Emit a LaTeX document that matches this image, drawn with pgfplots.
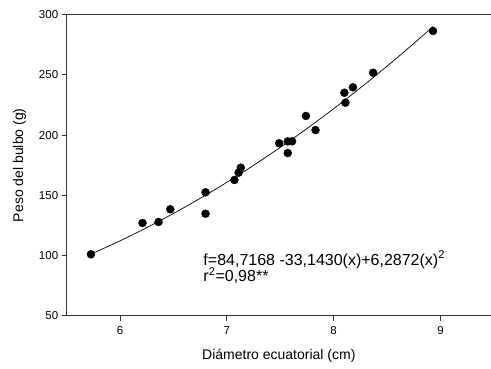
\documentclass[border=0pt]{standalone}
\usepackage{fontspec}
\setmainfont{Liberation Sans}
\usepackage{pgfplots}
\pgfplotsset{compat=1.18}
\usetikzlibrary{calc}
\begin{document}
\begin{tikzpicture}
\begin{axis}[name=ax, scale only axis, width=424.3pt, height=301pt,
  xmin=5.5, xmax=9.473, ymin=50, ymax=300,
  xtick={6,7,8,9}, ytick={50,100,150,200,250,300},
  axis x line=box, axis y line=left,
  axis line style={-, line width=0.8pt, black!80},
  xtick pos=left, ytick pos=left,
  tick align=outside, major tick length=5pt,
  tick style={line width=0.8pt, black!80},
  /pgf/number format/assume math mode=true,
  tick label style={font=\fontsize{11.5}{13}\selectfont},
  xticklabel style={yshift=-2pt},
  label style={font=\fontsize{14}{16}\selectfont},
  xlabel style={yshift=-8pt},
  ylabel style={yshift=6pt},
  xlabel={Diámetro ecuatorial (cm)},
  ylabel={Peso del bulbo (g)},
  clip=false]
\addplot[black, line width=0.7pt, smooth] coordinates {
(5.727,101.1) (6.0,112.198) (6.25,123.167) (6.5,134.922) (6.75,147.463)
(7.0,160.789) (7.25,174.900) (7.5,189.800) (7.75,205.484) (8.0,221.954)
(8.25,239.209) (8.5,257.251) (8.75,276.080) (8.93,290.122)};
\addplot[only marks, mark=*, mark size=4pt, black] coordinates {
(5.727,101.0) (6.21,127.0) (6.36,127.8) (6.47,138.4) (6.80,152.5) (6.80,134.7)
(7.07,162.7) (7.11,168.8) (7.13,172.9) (7.49,193.2) (7.57,194.8) (7.61,194.8)
(7.57,185.1) (7.74,215.9) (7.83,204.2) (8.10,235.2) (8.11,226.9) (8.18,239.7)
(8.37,251.8) (8.93,286.5)};
\node[anchor=base west, inner sep=0pt, font=\fontsize{16}{18}\selectfont] at (axis cs:6.779,92.1) {f=84,7168 -33,1430(x)+6,2872(x)\textsuperscript{2}};
\node[anchor=base west, inner sep=0pt, font=\fontsize{16}{18}\selectfont] at (axis cs:6.779,78.0) {r\textsuperscript{2}=0,98**};
\end{axis}
\pgfresetboundingbox
\path ($(ax.south west)+(-66.7pt,-53.3pt)$) rectangle ($(ax.north east)+(0pt,14.7pt)$);
\end{tikzpicture}
\end{document}
